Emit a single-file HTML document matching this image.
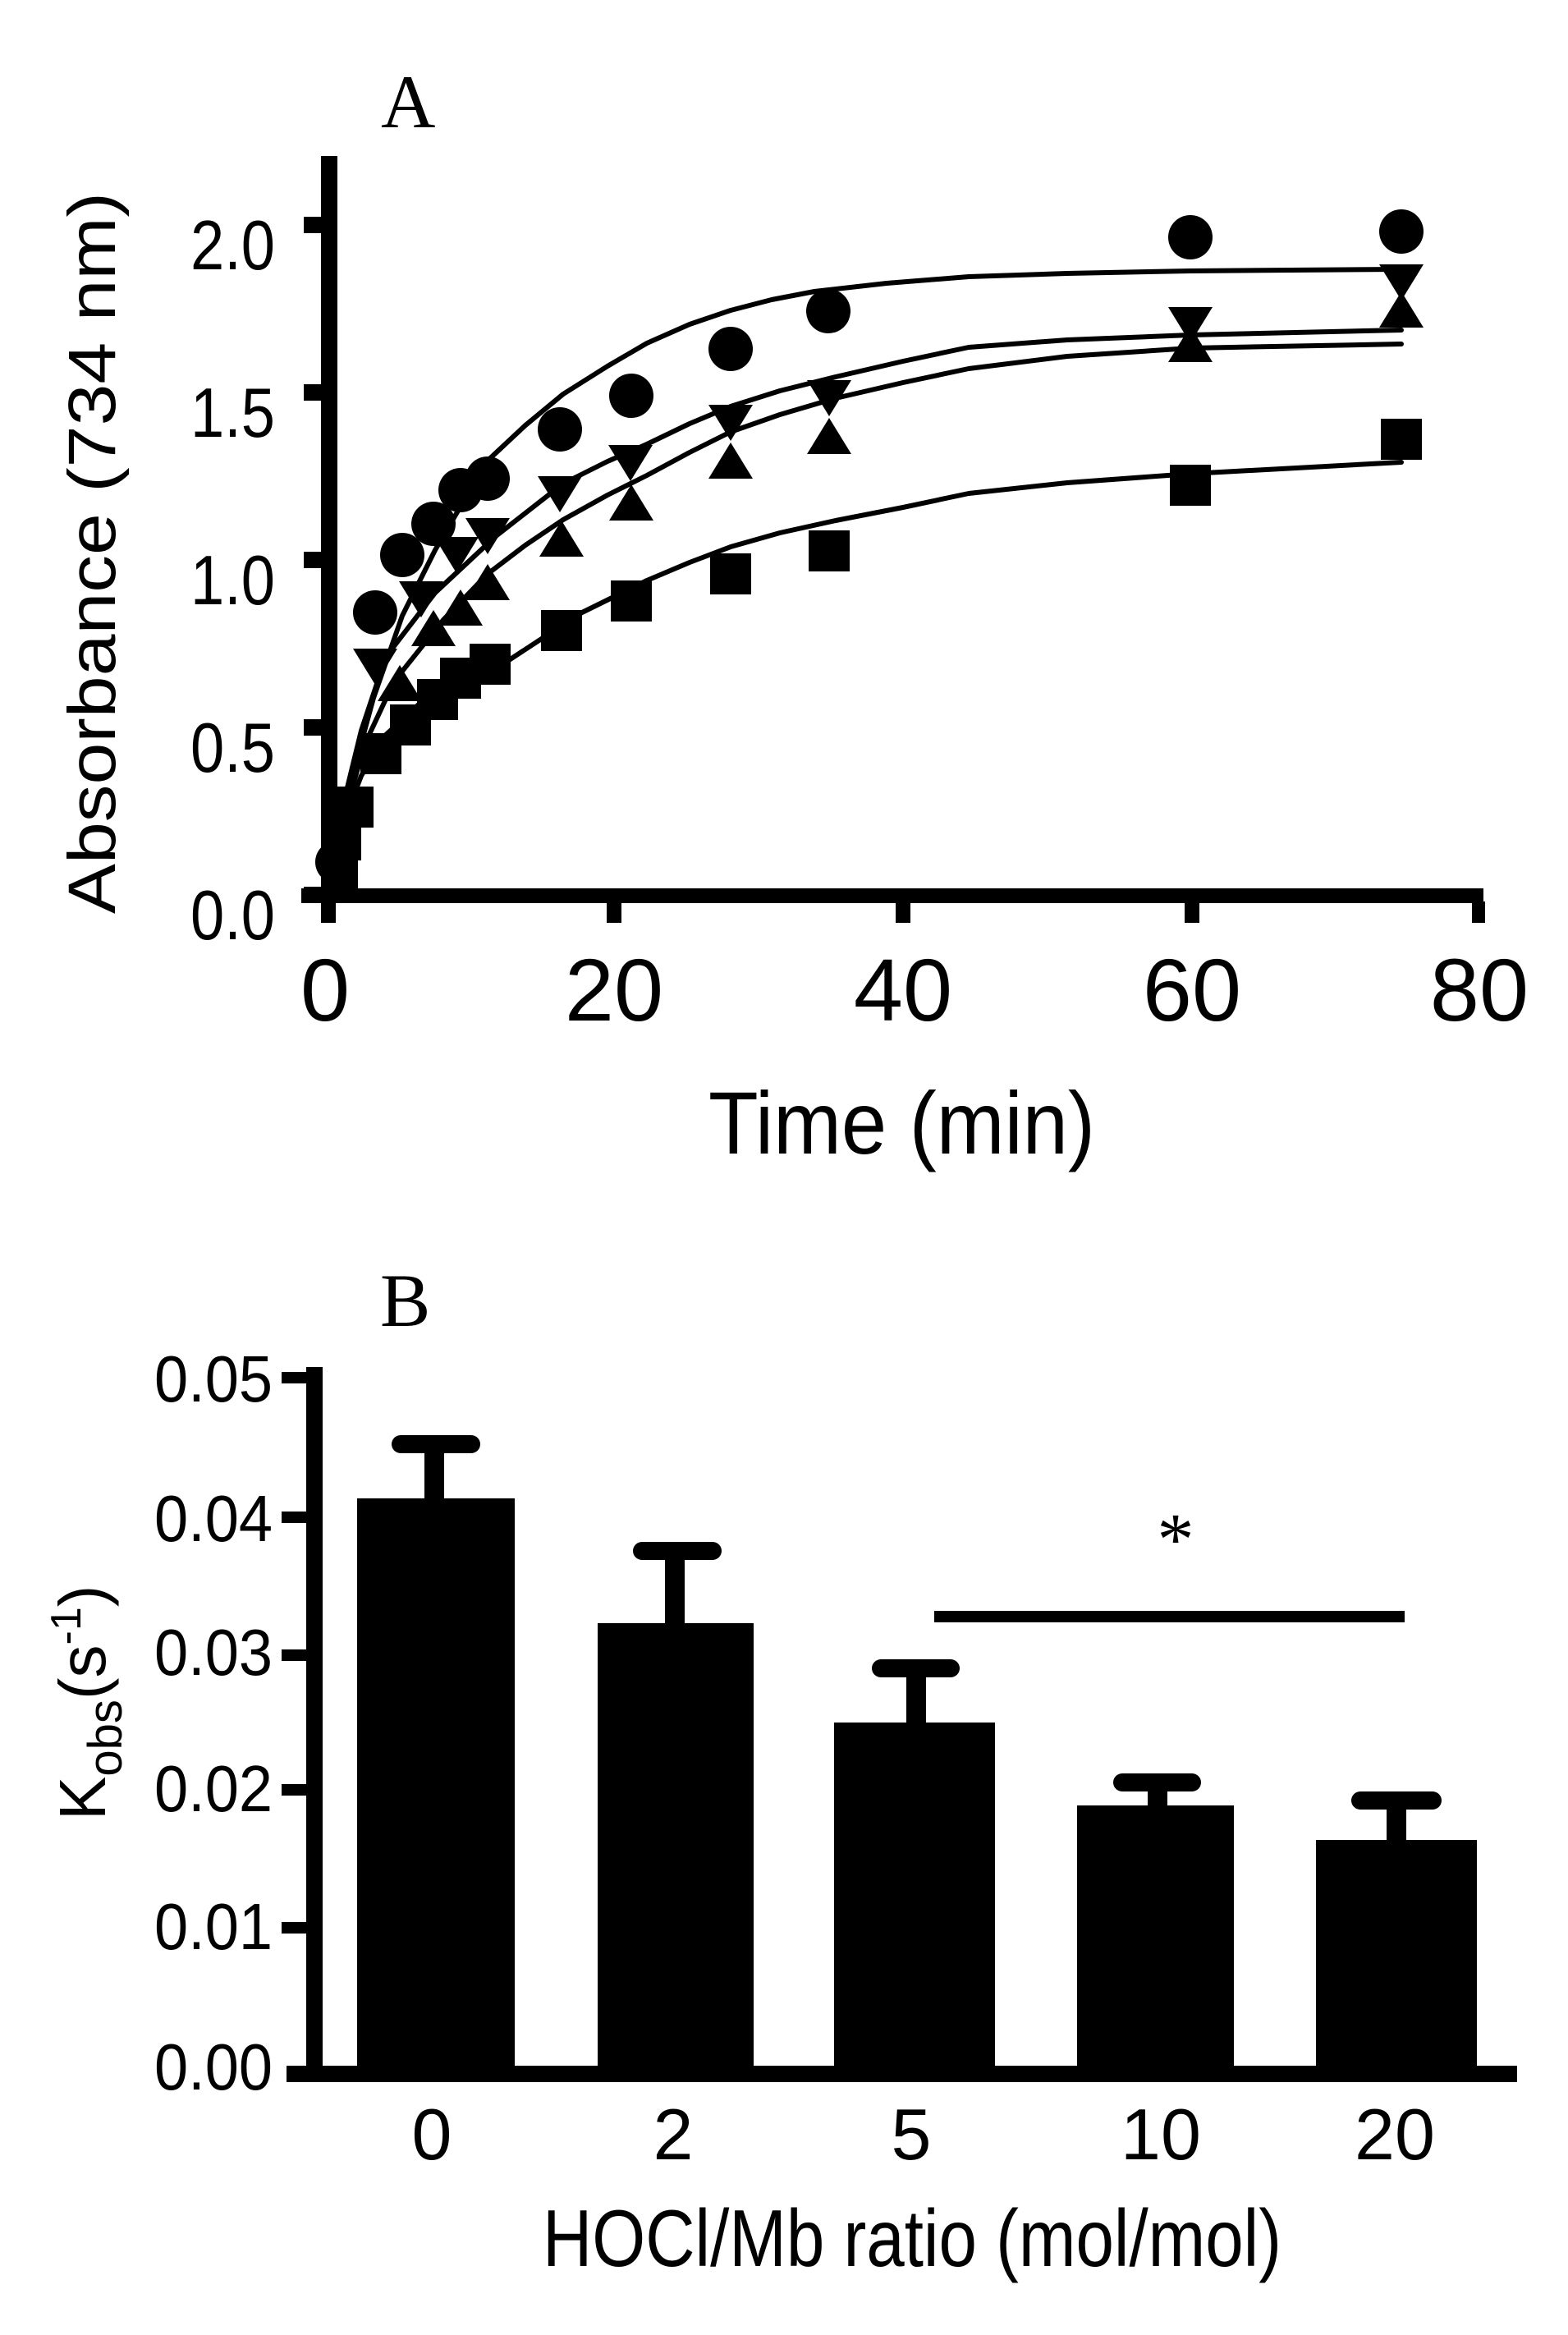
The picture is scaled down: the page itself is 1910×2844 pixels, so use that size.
<!DOCTYPE html>
<html><head><meta charset="utf-8"><style>
html,body{margin:0;padding:0;background:#fff;}
svg{display:block;}
text{font-family:"Liberation Sans",Arial,sans-serif;fill:#000;}
.serif{font-family:"Liberation Serif","Times New Roman",serif;}
</style></head><body>
<svg width="1910" height="2844" viewBox="0 0 1910 2844" xmlns="http://www.w3.org/2000/svg">
<rect width="1910" height="2844" fill="#fff"/>
<!-- Panel A -->
<text class="serif" x="464" y="155" font-size="92">A</text>
<rect x="391" y="190" width="20" height="910" fill="#000"/>
<rect x="367" y="1082" width="1440" height="18" fill="#000"/>
<g fill="#000">
<rect x="370" y="264" width="22" height="20"/>
<rect x="370" y="468" width="22" height="20"/>
<rect x="370" y="672" width="22" height="20"/>
<rect x="370" y="876" width="22" height="20"/>
<rect x="370" y="1080" width="22" height="20"/>
<rect x="391" y="1098" width="18" height="26"/>
<rect x="739" y="1098" width="18" height="26"/>
<rect x="1091" y="1098" width="18" height="26"/>
<rect x="1443" y="1098" width="18" height="26"/>
<rect x="1793" y="1098" width="16" height="26"/>
</g>
<g font-size="85" text-anchor="end">
<text x="335" y="328" textLength="103" lengthAdjust="spacingAndGlyphs">2.0</text>
<text x="335" y="532" textLength="103" lengthAdjust="spacingAndGlyphs">1.5</text>
<text x="335" y="736" textLength="103" lengthAdjust="spacingAndGlyphs">1.0</text>
<text x="335" y="940" textLength="103" lengthAdjust="spacingAndGlyphs">0.5</text>
<text x="335" y="1144" textLength="103" lengthAdjust="spacingAndGlyphs">0.0</text>
</g>
<g font-size="108" text-anchor="middle">
<text x="396" y="1243">0</text>
<text x="748" y="1243">20</text>
<text x="1100" y="1243">40</text>
<text x="1452" y="1243">60</text>
<text x="1802" y="1243">80</text>
</g>
<text x="863" y="1405" font-size="108" textLength="471" lengthAdjust="spacingAndGlyphs">Time (min)</text>
<text transform="translate(140,1113) rotate(-90)" font-size="82" textLength="879" lengthAdjust="spacingAndGlyphs">Absorbance (734 nm)</text>
<!-- curves -->
<g fill="none" stroke="#000" stroke-width="6" stroke-linejoin="round" stroke-linecap="round">
<polyline points="400,1080 425,960 455,850 490,750 530,670 565,610 594,561 640,518 686,480 740,446 788,418 840,395 890,378 940,365 992,355 1080,345 1180,337 1300,333 1450,330 1707,328"/>
<polyline points="400,1080 418,980 440,890 470,800 530,722 604,653 686,589 740,562 788,541 840,516 890,495 950,476 1018,459 1100,440 1180,423 1300,414 1450,408 1707,402"/>
<polyline points="400,1080 420,990 445,905 480,830 540,755 594,699 640,664 686,633 740,603 788,579 840,551 890,526 950,505 1018,485 1100,466 1180,449 1300,434 1450,424 1707,419"/>
<polyline points="400,1080 415,1010 440,945 470,895 510,858 560,830 620,804 707,747 788,707 840,685 890,666 950,649 1018,634 1100,618 1180,601 1300,588 1450,577 1707,563"/>
</g>
<!-- markers -->
<g fill="#000">
<circle cx="410" cy="1050" r="26"/>
<circle cx="457" cy="746" r="27"/>
<circle cx="490" cy="676" r="27"/>
<circle cx="528" cy="638" r="27"/>
<circle cx="561" cy="597" r="27"/>
<circle cx="594" cy="583" r="27"/>
<circle cx="682" cy="523" r="27"/>
<circle cx="769" cy="482" r="27"/>
<circle cx="890" cy="425" r="27"/>
<circle cx="1009" cy="379" r="27"/>
<circle cx="1450" cy="289" r="27"/>
<circle cx="1707" cy="282" r="27"/>
</g>
<g fill="#000">
<polygon points="430,790 484,790 457,834"/>
<polygon points="486,708 540,708 513,752"/>
<polygon points="529,654 583,654 556,698"/>
<polygon points="567,631 621,631 594,675"/>
<polygon points="655,580 709,580 682,624"/>
<polygon points="741,542 795,542 768,586"/>
<polygon points="863,493 917,493 890,537"/>
<polygon points="983,463 1037,463 1010,507"/>
<polygon points="1423,374 1477,374 1450,418"/>
<polygon points="1680,322 1734,322 1707,366"/>
<polygon points="460,854 514,854 487,810"/>
<polygon points="501,787 555,787 528,743"/>
<polygon points="534,762 588,762 561,718"/>
<polygon points="567,731 621,731 594,687"/>
<polygon points="657,678 711,678 684,634"/>
<polygon points="742,634 796,634 769,590"/>
<polygon points="863,583 917,583 890,539"/>
<polygon points="983,553 1037,553 1010,509"/>
<polygon points="1423,441 1477,441 1450,397"/>
<polygon points="1680,399 1734,399 1707,355"/>
<rect x="392" y="1040" width="44" height="44"/>
<rect x="394" y="1002" width="46" height="46"/>
<rect x="405" y="958" width="50" height="50"/>
<rect x="439" y="893" width="50" height="50"/>
<rect x="475" y="858" width="50" height="50"/>
<rect x="508" y="827" width="50" height="50"/>
<rect x="536" y="801" width="50" height="50"/>
<rect x="572" y="784" width="50" height="50"/>
<rect x="659" y="743" width="50" height="50"/>
<rect x="744" y="707" width="50" height="50"/>
<rect x="865" y="674" width="50" height="50"/>
<rect x="985" y="646" width="50" height="50"/>
<rect x="1425" y="566" width="50" height="50"/>
<rect x="1682" y="510" width="50" height="50"/>
</g>
<!-- Panel B -->
<text class="serif" x="463" y="1615" font-size="92">B</text>
<rect x="373" y="1665" width="20" height="871" fill="#000"/>
<rect x="349" y="2516" width="1499" height="20" fill="#000"/>
<g fill="#000">
<rect x="343" y="1671" width="30" height="14"/>
<rect x="343" y="1841" width="30" height="14"/>
<rect x="343" y="2009" width="30" height="14"/>
<rect x="343" y="2173" width="30" height="14"/>
<rect x="343" y="2341" width="30" height="14"/>
</g>
<g font-size="80" text-anchor="end">
<text x="332" y="1707" textLength="144" lengthAdjust="spacingAndGlyphs">0.05</text>
<text x="332" y="1877" textLength="144" lengthAdjust="spacingAndGlyphs">0.04</text>
<text x="332" y="2040" textLength="144" lengthAdjust="spacingAndGlyphs">0.03</text>
<text x="332" y="2206" textLength="144" lengthAdjust="spacingAndGlyphs">0.02</text>
<text x="332" y="2374" textLength="144" lengthAdjust="spacingAndGlyphs">0.01</text>
<text x="332" y="2545" textLength="144" lengthAdjust="spacingAndGlyphs">0.00</text>
</g>
<g fill="#000">
<rect x="435" y="1825" width="192" height="700"/>
<rect x="728" y="1977" width="190" height="548"/>
<rect x="1016" y="2098" width="196" height="427"/>
<rect x="1312" y="2199" width="191" height="326"/>
<rect x="1603" y="2241" width="196" height="284"/>
<rect x="517" y="1760" width="24" height="70"/>
<rect x="810" y="1890" width="24" height="90"/>
<rect x="1104" y="2033" width="24" height="70"/>
<rect x="1398" y="2172" width="24" height="30"/>
<rect x="1689" y="2194" width="24" height="50"/>
<rect x="477" y="1748" width="108" height="22" rx="11"/>
<rect x="771" y="1878" width="108" height="22" rx="11"/>
<rect x="1062" y="2021" width="107" height="22" rx="11"/>
<rect x="1356" y="2160" width="107" height="22" rx="11"/>
<rect x="1646" y="2182" width="110" height="22" rx="11"/>
<rect x="1138" y="1962" width="573" height="14"/>
</g>
<text class="serif" x="1432" y="1905" font-size="90" text-anchor="middle">*</text>
<g font-size="88" text-anchor="middle">
<text x="526" y="2630">0</text>
<text x="820" y="2630">2</text>
<text x="1110" y="2630">5</text>
<text x="1414" y="2630">10</text>
<text x="1699" y="2630">20</text>
</g>
<text x="661" y="2760" font-size="98" textLength="900" lengthAdjust="spacingAndGlyphs">HOCl/Mb ratio (mol/mol)</text>
<text transform="translate(128,2217) rotate(-90)" font-size="80">K<tspan font-size="58" dy="20">obs</tspan><tspan dy="-20">(s</tspan><tspan font-size="52" dy="-30">-1</tspan><tspan dy="30">)</tspan></text>
</svg>
</body></html>
